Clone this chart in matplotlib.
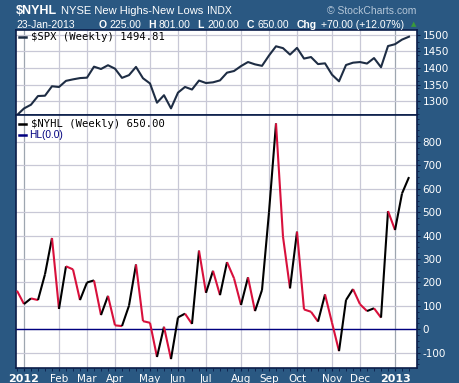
#!/usr/bin/env python3
"""$NYHL weekly with $SPX panel, StockCharts style."""

import numpy as np
import pandas as pd
import matplotlib
matplotlib.use("Agg")
import matplotlib.pyplot as plt
from matplotlib.collections import LineCollection
from matplotlib.lines import Line2D

plt.rcParams['axes.unicode_minus'] = False

# Weekly bars, labelled by the Monday of each week
week_start = pd.date_range('2011-12-26', periods=57, freq='7D')

spx = [1257.60, 1277.81, 1289.09, 1315.38, 1316.33, 1344.90, 1342.64, 1361.23,
       1365.74, 1369.63, 1370.87, 1404.17, 1397.11, 1408.47, 1398.08, 1370.26,
       1378.53, 1403.36, 1369.10, 1353.39, 1295.22, 1317.82, 1278.04, 1325.66,
       1342.84, 1335.02, 1362.16, 1354.68, 1356.78, 1362.66, 1385.97, 1390.99,
       1405.87, 1418.16, 1411.13, 1406.58, 1437.92, 1465.77, 1460.15, 1440.67,
       1460.93, 1428.59, 1433.19, 1411.94, 1414.20, 1379.85, 1359.88, 1409.15,
       1416.18, 1418.07, 1413.58, 1430.15, 1402.43, 1466.47, 1472.05, 1485.98,
       1494.81]

nyhl = [165, 108, 132, 125, 235, 390, 87, 269, 256, 125, 200, 209, 61, 143,
        17, 14, 101, 277, 35, 28, -118, 11, -127, 51, 67, 23, 336, 156, 250,
        146, 287, 218, 104, 222, 78, 168, 500, 879, 395, 175, 417, 85, 75, 33,
        149, 28, -93, 125, 172, 107, 78, 90, 50, 505, 424, 580, 650]

spx_ticks = [1300, 1350, 1400, 1450, 1500]
nyhl_ticks = [-100, 0, 100, 200, 300, 400, 500, 600, 700, 800]

BG = '#2A5882'
NAVY = '#0B1E4A'
GRID = '#C8C8D6'
JANGRID = '#9EA6B0'
RED = '#D8103C'

W, H = 460, 383


def fx(px):
    return px / W


def fy(py):
    return 1 - py / H


def main():
    fig = plt.figure(figsize=(W / 100, H / 100), dpi=100, facecolor=BG)

    ax1 = fig.add_axes([fx(16), fy(115), (417 - 16) / W, (115 - 30) / H])
    ax2 = fig.add_axes([fx(16), fy(368), (417 - 16) / W, (368 - 115) / H])

    x = np.arange(len(spx))

    # month starts: first bar whose Monday falls in a new month
    months = week_start.month
    month_idx = [i for i in range(1, len(week_start)) if months[i] != months[i - 1]]
    month_lab = [str(week_start[i].year) if week_start[i].month == 1
                 else week_start[i].strftime('%b') for i in month_idx]

    for ax in (ax1, ax2):
        ax.set_facecolor('white')
        ax.set_xlim(-0.14, 57.14)
        for i in month_idx:
            col = JANGRID if week_start[i].month == 1 else GRID
            ax.axvline(i, color=col, lw=0.9, zorder=0)
        ax.grid(axis='y', color=GRID, lw=0.9, zorder=0)
        ax.set_axisbelow(True)
        for s in ax.spines.values():
            s.set_color(NAVY)
            s.set_linewidth(1.2)
        ax.yaxis.tick_right()
        ax.tick_params(axis='y', colors=NAVY, labelcolor='white', labelsize=7.5,
                       length=2, pad=2)
        ax.tick_params(axis='y', which='minor', colors=NAVY, length=1.5)

    # top panel: SPX
    ax1.plot(x, spx, color='#1E2D44', lw=1.5, zorder=3)
    ax1.set_ylim(1258, 1515)
    ax1.set_yticks(spx_ticks)
    ax1.set_yticks(np.arange(1260, 1515, 20), minor=True)
    ax1.set_xticks([])
    ax1.tick_params(axis='x', length=0, labelbottom=False)

    # bottom panel: NYHL, red when falling
    pts = np.column_stack([x, nyhl])
    segs = np.stack([pts[:-1], pts[1:]], axis=1)
    cols = [RED if nyhl[i + 1] < nyhl[i] else 'black' for i in range(len(nyhl) - 1)]
    ax2.add_collection(LineCollection(segs, colors=cols, linewidths=1.5, zorder=3))
    ax2.axhline(0, color='#000080', lw=1.0, zorder=2)
    ax2.set_ylim(-165, 915)
    ax2.set_yticks(nyhl_ticks)
    ax2.set_yticks(np.arange(-150, 915, 25), minor=True)
    ax2.set_xticks(month_idx)
    ax2.set_xticklabels(month_lab)
    ax2.set_xticks(x, minor=True)
    ax2.tick_params(axis='x', which='both', colors=NAVY, labelcolor='white',
                    labelsize=7.5, length=2, pad=2)
    for t in ax2.get_xticklabels():
        if t.get_text().isdigit():
            t.set_fontweight('bold')
            t.set_fontsize(8)

    # in-panel legends
    mono = 'DejaVu Sans Mono'
    fig.add_artist(Line2D([fx(19.5), fx(26.5)], [fy(37), fy(37)], color='#1E2D44', lw=1.8))
    fig.text(fx(31), fy(37.5), '$SPX (Weekly) 1494.81', family=mono, fontsize=7.6,
             color='black', va='center', ha='left')
    fig.add_artist(Line2D([fx(19.5), fx(26.5)], [fy(123.5), fy(123.5)], color='black', lw=1.8))
    fig.text(fx(31), fy(124), '$NYHL (Weekly) 650.00', family=mono, fontsize=7.6,
             color='black', va='center', ha='left')
    fig.add_artist(Line2D([fx(19.5), fx(26.5)], [fy(134.5), fy(134.5)], color='#000080', lw=1.8))
    fig.text(fx(29.5), fy(134.5), 'HL(0.0)', family='Liberation Sans', fontsize=7.3,
             color='#000080', va='center', ha='left')

    # header
    hdr = 'Liberation Sans'
    fig.text(fx(16), fy(11), '$NYHL', family=hdr, fontsize=9, fontweight='bold',
             color='white', va='center')
    fig.text(fx(61), fy(11), 'NYSE New Highs-New Lows', family=hdr, fontsize=8,
             color='white', va='center')
    fig.text(fx(207), fy(11), 'INDX', family=hdr, fontsize=7.5,
             color='white', va='center')
    fig.text(fx(416), fy(11), '\u00a9 StockCharts.com', family=hdr, fontsize=7.5,
             color='#B4C6D8', va='center', ha='right')

    line2 = [(16, '23-Jan-2013', 'normal'), (99, 'O', 'bold'), (109, '225.00', 'normal'),
             (148, 'H', 'bold'), (159, '801.00', 'normal'), (197.5, 'L', 'bold'),
             (207, '200.00', 'normal'), (246.5, 'C', 'bold'), (257.5, '650.00', 'normal'),
             (296.5, 'Chg', 'bold'), (321.5, '+70.00 (+12.07%)', 'normal')]
    for px, s, w in line2:
        fig.text(fx(px), fy(24.5), s, family=hdr, fontsize=7.5, fontweight=w,
                 color='white', va='center')
    fig.text(fx(413.5), fy(24), '\u25b2', fontsize=5, color='#3A9A3A',
             va='center', ha='center')

    fig.savefig('out.png', dpi=100, facecolor=BG)
    plt.close(fig)


if __name__ == "__main__":
    main()
